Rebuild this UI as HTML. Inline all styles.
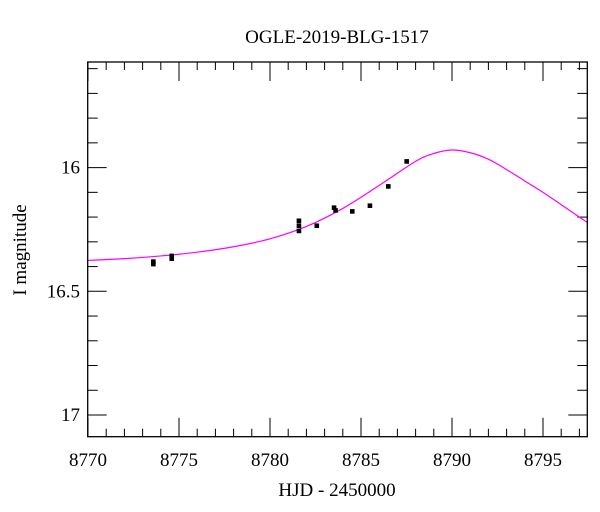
<!DOCTYPE html>
<html><head><meta charset="utf-8"><style>
html,body{margin:0;padding:0;background:#fff;}
svg{display:block;font-family:"Liberation Serif",serif;}
</style></head><body>
<svg id="chart" width="600" height="512" viewBox="0 0 600 512">
<text x="337" y="43" text-anchor="middle" font-size="19">OGLE-2019-BLG-1517</text>
<text x="337" y="496" text-anchor="middle" font-size="19">HJD - 2450000</text>
<text x="0" y="0" transform="translate(26,250) rotate(-90)" text-anchor="middle" font-size="19">I magnitude</text>
<defs><clipPath id="clip"><rect x="87.7" y="62" width="499.6" height="374.7"/></clipPath></defs>
<g id="axes"></g>
<g id="curve"></g>
<g id="points"></g>
<rect x="87.7" y="62" width="499.6" height="374.7" fill="none" stroke="#000" stroke-width="1.3"/>
</svg>
<script>
const obsTimes = [8773.59,8773.59,8774.60,8774.60,8781.59,8781.59,8781.59,8782.57,8783.52,8783.60,8784.52,8785.49,8786.50,8787.51];
const obsMags  = [16.380,16.390,16.357,16.368,16.215,16.235,16.256,16.235,16.162,16.173,16.177,16.154,16.076,15.975];
const obsErrs  = [0.008,0.008,0.008,0.008,0.008,0.008,0.008,0.006,0.008,0.008,0.006,0.006,0.006,0.006];
const modelTimes = [8769.5,8772,8774,8776,8778,8780,8782,8784,8786,8788,8789,8790,8791,8792,8793,8794,8795,8796,8797,8797.6];
const modelMags  = [16.377,16.368,16.357,16.342,16.320,16.288,16.238,16.165,16.072,15.975,15.943,15.929,15.940,15.966,16.008,16.054,16.100,16.150,16.200,16.230];
const xTicks = [8770,8775,8780,8785,8790,8795];
const yTicks = [16,16.5,17];

const NS='http://www.w3.org/2000/svg';
const X0=87.7,X1=587.3,Y0=62,Y1=436.7;
const T0=8770,PXT=18.2,M0=16,PXM=247.4;
function xs(t){return 88+PXT*(t-T0);}
function ys(m){return 167.6+PXM*(m-M0);}
function mk(tag,attrs,parent){const e=document.createElementNS(NS,tag);for(const k in attrs)e.setAttribute(k,attrs[k]);parent.appendChild(e);return e;}
const axes=document.getElementById('axes');
for(let t=T0;xs(t)<X1;t+=1){
  const x=xs(t); const major=Math.abs((t-T0)%5)<1e-6; const L=major?19:8;
  const a=mk('line',{x1:x,x2:x,y1:Y1,y2:Y1-L,stroke:'#000','stroke-width':1},axes);
  
  
  const b=mk('line',{x1:x,x2:x,y1:Y0,y2:Y0+L,stroke:'#000','stroke-width':1},axes);
  
  
}
xTicks.forEach(t=>{
  const tx=mk('text',{x:xs(t),y:466,'text-anchor':'middle','font-size':19},axes);
  tx.textContent=String(t);
  
  
});
for(let i=0;;i++){
  const m=15.6+i*0.1; const y=ys(m); if(y>Y1)break; if(y<Y0)continue;
  const major=Math.abs(Math.round(m*10)%5)===0; const L=major?19:10;
  const a=mk('line',{x1:X0,x2:X0+L,y1:y,y2:y,stroke:'#000','stroke-width':1},axes);
  
  
  const b=mk('line',{x1:X1,x2:X1-L,y1:y,y2:y,stroke:'#000','stroke-width':1},axes);
  
  
}
yTicks.forEach(m=>{
  const tx=mk('text',{x:80,y:ys(m)+6,'text-anchor':'end','font-size':19},axes);
  tx.textContent=String(m);
  
  
});
const P=modelTimes.map((t,i)=>[xs(t),ys(modelMags[i])]);
let d='M'+P[0][0]+','+P[0][1];
for(let i=0;i<P.length-1;i++){
  const p0=P[Math.max(0,i-1)],p1=P[i],p2=P[i+1],p3=P[Math.min(P.length-1,i+2)];
  const c1=[p1[0]+(p2[0]-p0[0])/6,p1[1]+(p2[1]-p0[1])/6];
  const c2=[p2[0]-(p3[0]-p1[0])/6,p2[1]-(p3[1]-p1[1])/6];
  d+=' C'+c1+' '+c2+' '+p2;
}
const cg=document.getElementById('curve');
const path=mk('path',{d:d,fill:'none',stroke:'#ff00ff','stroke-width':1.2,'clip-path':'url(#clip)'},cg);


const pg=document.getElementById('points');
obsTimes.forEach((t,i)=>{
  const x=xs(t),y=ys(obsMags[i]),e=obsErrs[i]*PXM;
  const l=mk('line',{x1:x,x2:x,y1:y-e,y2:y+e,stroke:'#000','stroke-width':1},pg);
  
  
  const r=mk('rect',{x:x-2.3,y:y-2.3,width:4.6,height:4.6,fill:'#000'},pg);
  
  
});
</script>
</body></html>
